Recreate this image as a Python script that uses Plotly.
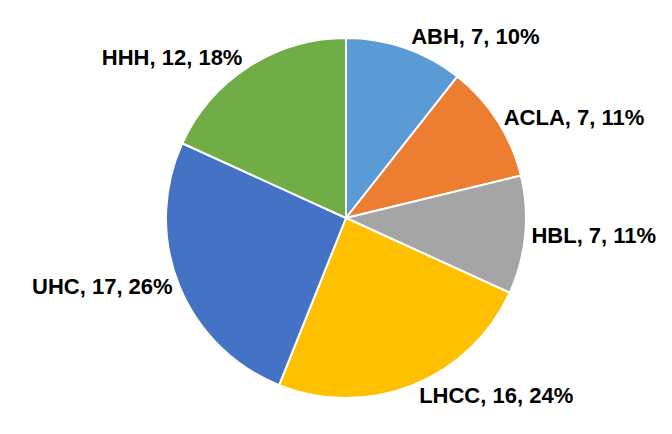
import plotly.graph_objects as go

categories = ["ABH", "ACLA", "HBL", "LHCC", "UHC", "HHH"]
values = [7, 7, 7, 16, 17, 12]
percent_labels = ["10%", "11%", "11%", "24%", "26%", "18%"]
colors = ["#5B9BD5", "#ED7D31", "#A5A5A5", "#FFC000", "#4472C4", "#70AD47"]

texts = [f"{c}, {v}, {p}" for c, v, p in zip(categories, values, percent_labels)]

fig = go.Figure(go.Pie(
    labels=categories,
    values=values,
    text=texts,
    textinfo="text",
    textposition="outside",
    sort=False,
    direction="clockwise",
    rotation=0,
    marker=dict(colors=colors, line=dict(color="white", width=2)),
    outsidetextfont=dict(family="Liberation Sans", size=22, color="black", weight="bold"),
    showlegend=False,
    hoverinfo="label+value+percent",
))

fig.update_layout(
    width=672, height=434,
    margin=dict(l=4, r=0, t=24, b=38),
    paper_bgcolor="white",
    plot_bgcolor="white",
)

fig.write_html("out.html")
